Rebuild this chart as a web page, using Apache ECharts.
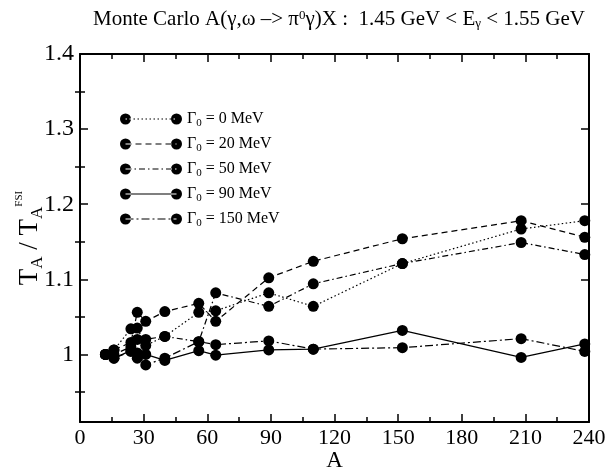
<!DOCTYPE html>
<html>
<head>
<meta charset="utf-8">
<script src="https://cdn.jsdelivr.net/npm/echarts@6/dist/echarts.min.js"></script>
<style>html,body{margin:0;padding:0;background:#fff}#c{width:609px;height:472px}</style>
</head>
<body>
<div id="c"></div>
<script>
// ---- data ----
const massNumbers = [12, 16, 24, 27, 31, 40, 56, 64, 89, 110, 152, 208, 238];
const gamma0   = [1.000, 1.006, 1.034, 1.035, 1.012, 1.024, 1.056, 1.058, 1.082, 1.064, 1.121, 1.167, 1.178];
const gamma20  = [1.000, 1.006, 1.016, 1.056, 1.044, 1.057, 1.068, 1.044, 1.102, 1.124, 1.154, 1.178, 1.156];
const gamma50  = [1.000, 0.995, 1.004, 1.020, 1.020, 1.024, 1.017, 1.082, 1.064, 1.094, 1.121, 1.149, 1.133];
const gamma90  = [1.000, 0.995, 1.005, 0.995, 1.000, 0.992, 1.005, 0.999, 1.006, 1.007, 1.032, 0.996, 1.014];
const gamma150 = [1.000, 1.000, 1.010, 1.002, 0.986, 0.995, 1.017, 1.013, 1.018, 1.007, 1.009, 1.021, 1.004];
const seriesWidths = ['0', '20', '50', '90', '150'];
const yMajorTicks = [1.0, 1.1, 1.2, 1.3, 1.4];
const yMinorTicks = [0.95, 1.05, 1.15, 1.25, 1.35];

// ---- styles ----
const allValues = [gamma0, gamma20, gamma50, gamma90, gamma150];
const dashes = [[1.5, 2.5], [6, 4], [6, 3, 1.5, 3], null, [8, 3, 2, 3]];
const SERIF = 'Liberation Serif';

function iconPath(dash) {
  const W = 62, r = 5.5, cy = 5.5, hw = 0.6;
  let p = '';
  const circ = cx => `M${cx - r},${cy} A${r},${r} 0 1,0 ${cx + r},${cy} A${r},${r} 0 1,0 ${cx - r},${cy} Z `;
  const rect = (x1, x2) => `M${x1},${cy - hw} L${x2},${cy - hw} L${x2},${cy + hw} L${x1},${cy + hw} Z `;
  p += circ(r) + circ(W - r);
  const x0 = r, x1 = W - r;
  if (!dash) { p += rect(x0, x1); }
  else {
    let x = x0, i = 0;
    while (x < x1) {
      const len = dash[i % dash.length];
      if (i % 2 === 0) p += rect(x, Math.min(x + len, x1));
      x += len; i++;
    }
  }
  return 'path://' + p;
}

const names = seriesWidths.map(w => 'Γ0 = ' + w + ' MeV');

const series = allValues.map((vals, i) => ({
  name: names[i],
  type: 'line',
  xAxisIndex: 0, yAxisIndex: 0,
  data: massNumbers.map((a, j) => [a, vals[j]]),
  symbol: 'circle',
  symbolSize: 11,
  itemStyle: { color: '#000', borderWidth: 0 },
  lineStyle: { color: '#000', width: 1.2, type: dashes[i] || 'solid' },
  animation: false,
  z: 3
}));

const axisLineStyle = { color: '#000', width: 2 };
const yCommon = { type: 'value', min: 0.91, max: 1.4, splitLine: { show: false } };
const fmt = v => String(+(+v).toFixed(2));

const option = {
  animation: false,
  backgroundColor: '#fff',
  title: {
    text: 'Monte Carlo A(γ,ω –> π{sup|0}γ)X :  1.45 GeV < E{sub|γ} < 1.55 GeV',
    left: 88, top: 4,
    textStyle: {
      fontFamily: SERIF, fontSize: 21, fontWeight: 'normal', color: '#000',
      rich: {
        sup: { fontFamily: SERIF, fontSize: 13, verticalAlign: 'top', lineHeight: 13, color: '#000' },
        sub: { fontFamily: SERIF, fontSize: 13, verticalAlign: 'bottom', lineHeight: 13, color: '#000' }
      }
    }
  },
  grid: { left: 80, right: 20, top: 54, bottom: 50, containLabel: false, outerBoundsMode: 'none' },
  legend: {
    orient: 'vertical',
    left: 115, top: 106,
    itemWidth: 62, itemHeight: 11,
    itemGap: 7,
    selectedMode: false,
    itemStyle: { borderWidth: 0 },
    data: names.map((n, i) => ({ name: n, icon: iconPath(dashes[i]) })),
    formatter: n => {
      const w = n.replace('Γ0 = ', '').replace(' MeV', '');
      return '{g|Γ}{s|0}{g| = ' + w + ' MeV}';
    },
    textStyle: {
      fontFamily: SERIF, fontSize: 16, color: '#000',
      rich: {
        g: { fontFamily: SERIF, fontSize: 16, color: '#000', lineHeight: 20 },
        s: { fontFamily: SERIF, fontSize: 11, color: '#000', verticalAlign: 'bottom', lineHeight: 10 }
      }
    }
  },
  xAxis: [
    {
      type: 'value', position: 'bottom', min: 0, max: 240, interval: 30,
      name: 'A', nameLocation: 'middle', nameGap: 27, nameMoveOverlap: false,
      nameTextStyle: { fontFamily: SERIF, fontSize: 23, color: '#000' },
      axisLine: { show: true, onZero: false, lineStyle: axisLineStyle },
      axisTick: { show: true, inside: true, length: 8, lineStyle: { color: '#000', width: 1.5 } },
      minorTick: { show: true, splitNumber: 2, length: 5, lineStyle: { color: '#000', width: 1.5 } },
      axisLabel: { fontFamily: SERIF, fontSize: 22, color: '#000', margin: 5 },
      splitLine: { show: false }
    },
    {
      type: 'value', position: 'top', min: 0, max: 240, interval: 30,
      axisLine: { show: true, onZero: false, lineStyle: axisLineStyle },
      axisTick: { show: true, inside: true, length: 8, lineStyle: { color: '#000', width: 1.5 } },
      minorTick: { show: true, splitNumber: 2, length: 5, lineStyle: { color: '#000', width: 1.5 } },
      axisLabel: { show: false },
      splitLine: { show: false }
    }
  ],
  yAxis: [
    Object.assign({}, yCommon, {
      position: 'left',
      name: '{m|T}{b|A}{m| / T}{b|A}{p|FSI}',
      nameLocation: 'middle', nameGap: 34, nameMoveOverlap: false,
      nameTextStyle: {
        fontFamily: SERIF, fontSize: 27, color: '#000',
        rich: {
          m: { fontFamily: SERIF, fontSize: 27, color: '#000', lineHeight: 32 },
          b: { fontFamily: SERIF, fontSize: 17, color: '#000', verticalAlign: 'bottom', lineHeight: 14 },
          p: { fontFamily: SERIF, fontSize: 11, color: '#000', verticalAlign: 'top', lineHeight: 11 }
        }
      },
      axisLine: { show: true, onZero: false, lineStyle: axisLineStyle },
      axisTick: { show: true, inside: true, length: 8, customValues: yMajorTicks, lineStyle: { color: '#000', width: 1.5 } },
      axisLabel: { show: true, customValues: yMajorTicks, fontFamily: SERIF, fontSize: 24, color: '#000', margin: 6, formatter: fmt }
    }),
    Object.assign({}, yCommon, {
      position: 'left',
      axisLine: { show: false },
      axisTick: { show: true, inside: true, length: 5, customValues: yMinorTicks, lineStyle: { color: '#000', width: 1.5 } },
      axisLabel: { show: false }
    }),
    Object.assign({}, yCommon, {
      position: 'right',
      axisLine: { show: true, onZero: false, lineStyle: axisLineStyle },
      axisTick: { show: true, inside: true, length: 8, customValues: yMajorTicks, lineStyle: { color: '#000', width: 1.5 } },
      axisLabel: { show: false }
    }),
    Object.assign({}, yCommon, {
      position: 'right',
      axisLine: { show: false },
      axisTick: { show: true, inside: true, length: 5, customValues: yMinorTicks, lineStyle: { color: '#000', width: 1.5 } },
      axisLabel: { show: false }
    })
  ],
  series: series
};

const chart = echarts.init(document.getElementById('c'), null, { renderer: 'canvas' });
chart.setOption(option);
</script>
</body>
</html>
